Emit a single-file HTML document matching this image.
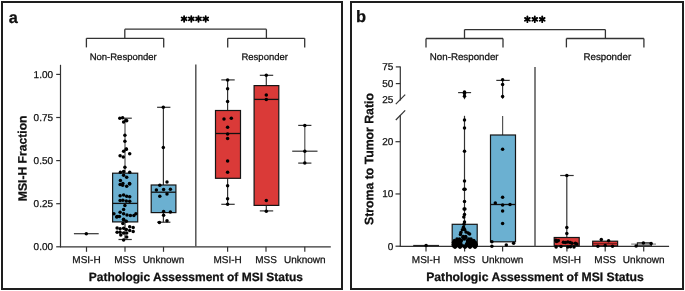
<!DOCTYPE html>
<html><head><meta charset="utf-8"><style>
html,body{margin:0;padding:0;background:#fff;}
body{width:685px;height:291px;overflow:hidden;}
svg{display:block;will-change:transform;font-family:"Liberation Sans",sans-serif;}
text{fill:#111;stroke:#111;stroke-width:0.25px;}
</style></head><body>
<svg width="685" height="291" viewBox="0 0 685 291">
<rect x="0" y="0" width="685" height="291" fill="#fff"/>
<rect x="2" y="2" width="340" height="287" fill="none" stroke="#1e1e1e" stroke-width="2"/>
<rect x="351" y="2" width="332" height="287" fill="none" stroke="#1e1e1e" stroke-width="2"/>
<g transform="matrix(1,0,0.001,1,-0.0226,0)"><text x="8.8" y="22.6" font-size="16.3" text-anchor="start" font-weight="bold" >a</text></g>
<g transform="matrix(1,0,0.001,1,-0.0225,0)"><text x="355.9" y="22.5" font-size="16.5" text-anchor="start" font-weight="bold" >b</text></g>
<line x1="124.8" y1="29.2" x2="266.4" y2="29.2" stroke="#333" stroke-width="1.3"/>
<line x1="124.8" y1="29.2" x2="124.8" y2="38.3" stroke="#333" stroke-width="1.3"/>
<line x1="266.4" y1="29.2" x2="266.4" y2="38.3" stroke="#333" stroke-width="1.3"/>
<line x1="86.4" y1="38.3" x2="163.7" y2="38.3" stroke="#333" stroke-width="1.3"/>
<line x1="86.4" y1="38.3" x2="86.4" y2="47.4" stroke="#333" stroke-width="1.3"/>
<line x1="163.7" y1="38.3" x2="163.7" y2="47.4" stroke="#333" stroke-width="1.3"/>
<line x1="227.7" y1="38.3" x2="304.7" y2="38.3" stroke="#333" stroke-width="1.3"/>
<line x1="227.7" y1="38.3" x2="227.7" y2="47.4" stroke="#333" stroke-width="1.3"/>
<line x1="304.7" y1="38.3" x2="304.7" y2="47.4" stroke="#333" stroke-width="1.3"/>
<line x1="184.10" y1="16.05" x2="184.10" y2="21.75" stroke="#000" stroke-width="1.8" stroke-linecap="round"/>
<line x1="181.63" y1="17.47" x2="186.57" y2="20.32" stroke="#000" stroke-width="1.8" stroke-linecap="round"/>
<line x1="186.57" y1="17.47" x2="181.63" y2="20.32" stroke="#000" stroke-width="1.8" stroke-linecap="round"/>
<circle cx="184.1" cy="18.9" r="1.4" fill="#000"/>
<line x1="191.30" y1="16.05" x2="191.30" y2="21.75" stroke="#000" stroke-width="1.8" stroke-linecap="round"/>
<line x1="188.83" y1="17.47" x2="193.77" y2="20.32" stroke="#000" stroke-width="1.8" stroke-linecap="round"/>
<line x1="193.77" y1="17.47" x2="188.83" y2="20.32" stroke="#000" stroke-width="1.8" stroke-linecap="round"/>
<circle cx="191.3" cy="18.9" r="1.4" fill="#000"/>
<line x1="198.50" y1="16.05" x2="198.50" y2="21.75" stroke="#000" stroke-width="1.8" stroke-linecap="round"/>
<line x1="196.03" y1="17.47" x2="200.97" y2="20.32" stroke="#000" stroke-width="1.8" stroke-linecap="round"/>
<line x1="200.97" y1="17.47" x2="196.03" y2="20.32" stroke="#000" stroke-width="1.8" stroke-linecap="round"/>
<circle cx="198.5" cy="18.9" r="1.4" fill="#000"/>
<line x1="205.70" y1="16.05" x2="205.70" y2="21.75" stroke="#000" stroke-width="1.8" stroke-linecap="round"/>
<line x1="203.23" y1="17.47" x2="208.17" y2="20.32" stroke="#000" stroke-width="1.8" stroke-linecap="round"/>
<line x1="208.17" y1="17.47" x2="203.23" y2="20.32" stroke="#000" stroke-width="1.8" stroke-linecap="round"/>
<circle cx="205.7" cy="18.9" r="1.4" fill="#000"/>
<g transform="matrix(1,0,0.001,1,-0.0600,0)"><text x="123.2" y="60" font-size="9.5" text-anchor="middle" font-weight="normal" >Non-Responder</text></g>
<g transform="matrix(1,0,0.001,1,-0.0600,0)"><text x="264.7" y="60" font-size="9.5" text-anchor="middle" font-weight="normal" >Responder</text></g>
<line x1="60.5" y1="64.8" x2="60.5" y2="247.3" stroke="#333" stroke-width="1.2"/>
<line x1="60.0" y1="246.8" x2="330.8" y2="246.8" stroke="#333" stroke-width="1.2"/>
<line x1="56.2" y1="246.8" x2="60.5" y2="246.8" stroke="#333" stroke-width="1.2"/>
<g transform="matrix(1,0,0.001,1,-0.2502,0)"><text x="53.1" y="250.20000000000002" font-size="10" text-anchor="end" font-weight="normal" >0.00</text></g>
<line x1="56.2" y1="203.70000000000002" x2="60.5" y2="203.70000000000002" stroke="#333" stroke-width="1.2"/>
<g transform="matrix(1,0,0.001,1,-0.2071,0)"><text x="53.1" y="207.10000000000002" font-size="10" text-anchor="end" font-weight="normal" >0.25</text></g>
<line x1="56.2" y1="160.60000000000002" x2="60.5" y2="160.60000000000002" stroke="#333" stroke-width="1.2"/>
<g transform="matrix(1,0,0.001,1,-0.1640,0)"><text x="53.1" y="164.00000000000003" font-size="10" text-anchor="end" font-weight="normal" >0.50</text></g>
<line x1="56.2" y1="117.5" x2="60.5" y2="117.5" stroke="#333" stroke-width="1.2"/>
<g transform="matrix(1,0,0.001,1,-0.1209,0)"><text x="53.1" y="120.9" font-size="10" text-anchor="end" font-weight="normal" >0.75</text></g>
<line x1="56.2" y1="74.4" x2="60.5" y2="74.4" stroke="#333" stroke-width="1.2"/>
<g transform="matrix(1,0,0.001,1,-0.0778,0)"><text x="53.1" y="77.80000000000001" font-size="10" text-anchor="end" font-weight="normal" >1.00</text></g>
<line x1="86.5" y1="246.8" x2="86.5" y2="251.8" stroke="#333" stroke-width="1.2"/>
<g transform="matrix(1,0,0.001,1,-0.2632,0)"><text x="86.5" y="263.2" font-size="10" text-anchor="middle" font-weight="normal" >MSI-H</text></g>
<line x1="125" y1="246.8" x2="125" y2="251.8" stroke="#333" stroke-width="1.2"/>
<g transform="matrix(1,0,0.001,1,-0.2632,0)"><text x="125" y="263.2" font-size="10" text-anchor="middle" font-weight="normal" >MSS</text></g>
<line x1="163.5" y1="246.8" x2="163.5" y2="251.8" stroke="#333" stroke-width="1.2"/>
<g transform="matrix(1,0,0.001,1,-0.2632,0)"><text x="163.5" y="263.2" font-size="10" text-anchor="middle" font-weight="normal" >Unknown</text></g>
<line x1="227.6" y1="246.8" x2="227.6" y2="251.8" stroke="#333" stroke-width="1.2"/>
<g transform="matrix(1,0,0.001,1,-0.2632,0)"><text x="227.6" y="263.2" font-size="10" text-anchor="middle" font-weight="normal" >MSI-H</text></g>
<line x1="266" y1="246.8" x2="266" y2="251.8" stroke="#333" stroke-width="1.2"/>
<g transform="matrix(1,0,0.001,1,-0.2632,0)"><text x="266" y="263.2" font-size="10" text-anchor="middle" font-weight="normal" >MSS</text></g>
<line x1="304.8" y1="246.8" x2="304.8" y2="251.8" stroke="#333" stroke-width="1.2"/>
<g transform="matrix(1,0,0.001,1,-0.2632,0)"><text x="304.8" y="263.2" font-size="10" text-anchor="middle" font-weight="normal" >Unknown</text></g>
<line x1="195.8" y1="64.6" x2="195.8" y2="246.8" stroke="#555" stroke-width="1.5"/>
<g transform="matrix(1,0,0.001,1,-0.2813,0)"><text x="195.9" y="281.3" font-size="12" text-anchor="middle" font-weight="bold" >Pathologic Assessment of MSI Status</text></g>
<g transform="matrix(1,0,0.001,1,-0.1583,0)"><text x="26.6" y="158.35" font-size="12.15" text-anchor="middle" font-weight="bold" transform="rotate(-90 26.6 158.35)">MSI-H Fraction</text></g>
<line x1="73.9" y1="233.7" x2="98.7" y2="233.7" stroke="#333" stroke-width="1.2"/>
<circle cx="86.3" cy="233.7" r="1.75"/>
<line x1="125" y1="118.2" x2="125" y2="173.2" stroke="#555" stroke-width="1.2"/>
<line x1="125" y1="221.9" x2="125" y2="239.5" stroke="#333" stroke-width="1.2"/>
<line x1="119.2" y1="118.2" x2="131.8" y2="118.2" stroke="#333" stroke-width="1.2"/>
<line x1="118.5" y1="239.5" x2="131.8" y2="239.5" stroke="#333" stroke-width="1.2"/>
<rect x="112.6" y="173.2" width="25.1" height="48.7" fill="#6bb0d1" stroke="#151515" stroke-width="1.2"/>
<line x1="112.6" y1="203.4" x2="137.7" y2="203.4" stroke="#111" stroke-width="1.3"/>
<circle cx="119.8" cy="118.2" r="1.75"/>
<circle cx="122.6" cy="117.7" r="1.75"/>
<circle cx="126" cy="120.3" r="1.75"/>
<circle cx="123.6" cy="122.1" r="1.75"/>
<circle cx="126.7" cy="120.7" r="1.75"/>
<circle cx="124.9" cy="135.2" r="1.75"/>
<circle cx="124.9" cy="141.3" r="1.75"/>
<circle cx="126.3" cy="149.2" r="1.75"/>
<circle cx="126.3" cy="149.1" r="1.75"/>
<circle cx="123.6" cy="151.2" r="1.75"/>
<circle cx="129.7" cy="153.7" r="1.75"/>
<circle cx="120.1" cy="155.7" r="1.75"/>
<circle cx="123.3" cy="157" r="1.75"/>
<circle cx="124.9" cy="167.3" r="1.75"/>
<circle cx="120.4" cy="172.2" r="1.75"/>
<circle cx="123.6" cy="171.4" r="1.75"/>
<circle cx="129.7" cy="172.2" r="1.75"/>
<circle cx="123.6" cy="175.2" r="1.75"/>
<circle cx="126.7" cy="177.3" r="1.75"/>
<circle cx="120.4" cy="180.5" r="1.75"/>
<circle cx="122.9" cy="183.5" r="1.75"/>
<circle cx="129.5" cy="183.5" r="1.75"/>
<circle cx="120.1" cy="184.4" r="1.75"/>
<circle cx="122.6" cy="185.2" r="1.75"/>
<circle cx="126.7" cy="186.2" r="1.75"/>
<circle cx="129.7" cy="184.1" r="1.75"/>
<circle cx="120.1" cy="195.8" r="1.75"/>
<circle cx="123.6" cy="195.1" r="1.75"/>
<circle cx="126.7" cy="196.2" r="1.75"/>
<circle cx="129.7" cy="196.8" r="1.75"/>
<circle cx="120.1" cy="200.6" r="1.75"/>
<circle cx="122.9" cy="200.3" r="1.75"/>
<circle cx="126.3" cy="200.9" r="1.75"/>
<circle cx="129.7" cy="201.3" r="1.75"/>
<circle cx="124.9" cy="205.4" r="1.75"/>
<circle cx="123.6" cy="209.6" r="1.75"/>
<circle cx="120.1" cy="212.3" r="1.75"/>
<circle cx="113.9" cy="213.7" r="1.75"/>
<circle cx="123.6" cy="213.7" r="1.75"/>
<circle cx="127" cy="215" r="1.75"/>
<circle cx="130.4" cy="215.5" r="1.75"/>
<circle cx="133.9" cy="215.5" r="1.75"/>
<circle cx="135.9" cy="213.7" r="1.75"/>
<circle cx="116.7" cy="217.1" r="1.75"/>
<circle cx="119.4" cy="216.4" r="1.75"/>
<circle cx="123.6" cy="219.2" r="1.75"/>
<circle cx="117.1" cy="216.4" r="1.75"/>
<circle cx="123.6" cy="219.8" r="1.75"/>
<circle cx="126.3" cy="221.2" r="1.75"/>
<circle cx="122.9" cy="223.5" r="1.75"/>
<circle cx="117.1" cy="228.1" r="1.75"/>
<circle cx="120.1" cy="228.7" r="1.75"/>
<circle cx="123.6" cy="228.3" r="1.75"/>
<circle cx="126.3" cy="229.4" r="1.75"/>
<circle cx="129.7" cy="226.7" r="1.75"/>
<circle cx="133.2" cy="227.6" r="1.75"/>
<circle cx="117.1" cy="232.2" r="1.75"/>
<circle cx="120.1" cy="232.2" r="1.75"/>
<circle cx="123.6" cy="232.9" r="1.75"/>
<circle cx="126.7" cy="233.1" r="1.75"/>
<circle cx="129.7" cy="230.4" r="1.75"/>
<circle cx="133.2" cy="231.5" r="1.75"/>
<circle cx="126.7" cy="237" r="1.75"/>
<circle cx="123.6" cy="240" r="1.75"/>
<circle cx="120.8" cy="235" r="1.75"/>
<line x1="163.4" y1="107.3" x2="163.4" y2="185" stroke="#333" stroke-width="1.2"/>
<line x1="163.4" y1="212.6" x2="163.4" y2="222.2" stroke="#333" stroke-width="1.2"/>
<line x1="157.1" y1="107.3" x2="170.4" y2="107.3" stroke="#333" stroke-width="1.2"/>
<line x1="157.1" y1="222.2" x2="170.4" y2="222.2" stroke="#333" stroke-width="1.2"/>
<rect x="151.2" y="185" width="24.7" height="27.6" fill="#6bb0d1" stroke="#151515" stroke-width="1.2"/>
<line x1="151.2" y1="192.2" x2="175.9" y2="192.2" stroke="#111" stroke-width="1.3"/>
<circle cx="163.3" cy="107.3" r="1.75"/>
<circle cx="163.3" cy="147.6" r="1.75"/>
<circle cx="167" cy="182.1" r="1.75"/>
<circle cx="159.8" cy="185.3" r="1.75"/>
<circle cx="156.4" cy="190.1" r="1.75"/>
<circle cx="163.6" cy="189.4" r="1.75"/>
<circle cx="170.4" cy="189.2" r="1.75"/>
<circle cx="167" cy="194" r="1.75"/>
<circle cx="159.8" cy="196.3" r="1.75"/>
<circle cx="163.6" cy="211.4" r="1.75"/>
<circle cx="170.4" cy="212.1" r="1.75"/>
<circle cx="163.6" cy="215.3" r="1.75"/>
<circle cx="159.4" cy="222.5" r="1.75"/>
<circle cx="167" cy="220.8" r="1.75"/>
<line x1="227.6" y1="79.9" x2="227.6" y2="110.5" stroke="#333" stroke-width="1.2"/>
<line x1="227.6" y1="178.3" x2="227.6" y2="204.3" stroke="#333" stroke-width="1.2"/>
<line x1="221.3" y1="79.9" x2="234.7" y2="79.9" stroke="#333" stroke-width="1.2"/>
<line x1="221.3" y1="204.3" x2="234.7" y2="204.3" stroke="#333" stroke-width="1.2"/>
<rect x="215.5" y="110.5" width="25" height="67.8" fill="#da3a38" stroke="#151515" stroke-width="1.2"/>
<line x1="215.5" y1="133.5" x2="240.5" y2="133.5" stroke="#111" stroke-width="1.3"/>
<circle cx="227.6" cy="79.9" r="1.75"/>
<circle cx="227.6" cy="88.8" r="1.75"/>
<circle cx="227.6" cy="101.6" r="1.75"/>
<circle cx="224" cy="119" r="1.75"/>
<circle cx="231.3" cy="118.3" r="1.75"/>
<circle cx="227.6" cy="127.3" r="1.75"/>
<circle cx="227.6" cy="133.9" r="1.75"/>
<circle cx="227.6" cy="138.4" r="1.75"/>
<circle cx="227.6" cy="161" r="1.75"/>
<circle cx="227.6" cy="172.3" r="1.75"/>
<circle cx="227.6" cy="185.7" r="1.75"/>
<circle cx="227.6" cy="198.8" r="1.75"/>
<circle cx="227.6" cy="204.3" r="1.75"/>
<line x1="266.3" y1="75.3" x2="266.3" y2="85.6" stroke="#333" stroke-width="1.2"/>
<line x1="266.3" y1="205.4" x2="266.3" y2="210.9" stroke="#333" stroke-width="1.2"/>
<line x1="259.8" y1="75.3" x2="273.2" y2="75.3" stroke="#333" stroke-width="1.2"/>
<line x1="259.8" y1="210.9" x2="273.2" y2="210.9" stroke="#333" stroke-width="1.2"/>
<rect x="254.1" y="85.6" width="24.7" height="119.8" fill="#da3a38" stroke="#151515" stroke-width="1.2"/>
<line x1="254.1" y1="99.4" x2="278.8" y2="99.4" stroke="#111" stroke-width="1.3"/>
<circle cx="266.3" cy="75.3" r="1.75"/>
<circle cx="266.3" cy="95" r="1.75"/>
<circle cx="266.3" cy="99.4" r="1.75"/>
<circle cx="266.3" cy="200.6" r="1.75"/>
<circle cx="266.3" cy="211.2" r="1.75"/>
<line x1="304.8" y1="125.4" x2="304.8" y2="163.1" stroke="#555" stroke-width="1.2"/>
<line x1="298.2" y1="125.4" x2="311.4" y2="125.4" stroke="#333" stroke-width="1.2"/>
<line x1="298.2" y1="163.1" x2="311.4" y2="163.1" stroke="#333" stroke-width="1.2"/>
<line x1="292.2" y1="151.2" x2="317.5" y2="151.2" stroke="#333" stroke-width="1.2"/>
<circle cx="304.8" cy="125.4" r="1.75"/>
<circle cx="304.8" cy="151.2" r="1.75"/>
<circle cx="304.8" cy="163.1" r="1.75"/>
<line x1="464.5" y1="29.6" x2="605.4" y2="29.6" stroke="#333" stroke-width="1.3"/>
<line x1="464.5" y1="29.6" x2="464.5" y2="38.5" stroke="#333" stroke-width="1.3"/>
<line x1="605.4" y1="29.6" x2="605.4" y2="38.5" stroke="#333" stroke-width="1.3"/>
<line x1="426" y1="38.5" x2="503" y2="38.5" stroke="#333" stroke-width="1.3"/>
<line x1="426" y1="38.5" x2="426" y2="47.4" stroke="#333" stroke-width="1.3"/>
<line x1="503" y1="38.5" x2="503" y2="47.4" stroke="#333" stroke-width="1.3"/>
<line x1="566.4" y1="38.5" x2="643.9" y2="38.5" stroke="#333" stroke-width="1.3"/>
<line x1="566.4" y1="38.5" x2="566.4" y2="47.4" stroke="#333" stroke-width="1.3"/>
<line x1="643.9" y1="38.5" x2="643.9" y2="47.4" stroke="#333" stroke-width="1.3"/>
<line x1="527.40" y1="16.45" x2="527.40" y2="22.15" stroke="#000" stroke-width="1.8" stroke-linecap="round"/>
<line x1="524.93" y1="17.88" x2="529.87" y2="20.73" stroke="#000" stroke-width="1.8" stroke-linecap="round"/>
<line x1="529.87" y1="17.88" x2="524.93" y2="20.73" stroke="#000" stroke-width="1.8" stroke-linecap="round"/>
<circle cx="527.4" cy="19.3" r="1.4" fill="#000"/>
<line x1="534.80" y1="16.45" x2="534.80" y2="22.15" stroke="#000" stroke-width="1.8" stroke-linecap="round"/>
<line x1="532.33" y1="17.88" x2="537.27" y2="20.73" stroke="#000" stroke-width="1.8" stroke-linecap="round"/>
<line x1="537.27" y1="17.88" x2="532.33" y2="20.73" stroke="#000" stroke-width="1.8" stroke-linecap="round"/>
<circle cx="534.8" cy="19.3" r="1.4" fill="#000"/>
<line x1="542.20" y1="16.45" x2="542.20" y2="22.15" stroke="#000" stroke-width="1.8" stroke-linecap="round"/>
<line x1="539.73" y1="17.88" x2="544.67" y2="20.73" stroke="#000" stroke-width="1.8" stroke-linecap="round"/>
<line x1="544.67" y1="17.88" x2="539.73" y2="20.73" stroke="#000" stroke-width="1.8" stroke-linecap="round"/>
<circle cx="542.2" cy="19.3" r="1.4" fill="#000"/>
<g transform="matrix(1,0,0.001,1,-0.0600,0)"><text x="464.2" y="60" font-size="9.75" text-anchor="middle" font-weight="normal" >Non-Responder</text></g>
<g transform="matrix(1,0,0.001,1,-0.0600,0)"><text x="607.3" y="60" font-size="9.75" text-anchor="middle" font-weight="normal" >Responder</text></g>
<line x1="400.3" y1="66.5" x2="400.3" y2="100.5" stroke="#333" stroke-width="1.2"/>
<line x1="400.3" y1="115" x2="400.3" y2="246.7" stroke="#333" stroke-width="1.2"/>
<line x1="395.8" y1="104.2" x2="405.2" y2="94.6" stroke="#333" stroke-width="1.2"/>
<line x1="395.8" y1="120.0" x2="405.2" y2="110.4" stroke="#333" stroke-width="1.2"/>
<line x1="399.8" y1="246.3" x2="669.1" y2="246.3" stroke="#333" stroke-width="1.2"/>
<line x1="395.8" y1="66.9" x2="400.3" y2="66.9" stroke="#333" stroke-width="1.2"/>
<g transform="matrix(1,0,0.001,1,-0.0703,0)"><text x="393.3" y="70.30000000000001" font-size="10" text-anchor="end" font-weight="normal" >75</text></g>
<line x1="395.8" y1="83.6" x2="400.3" y2="83.6" stroke="#333" stroke-width="1.2"/>
<g transform="matrix(1,0,0.001,1,-0.0870,0)"><text x="393.3" y="87.0" font-size="10" text-anchor="end" font-weight="normal" >50</text></g>
<g transform="matrix(1,0,0.001,1,-0.1030,0)"><text x="393.3" y="103.0" font-size="10" text-anchor="end" font-weight="normal" >25</text></g>
<line x1="395.5" y1="246.2" x2="400.3" y2="246.2" stroke="#333" stroke-width="1.2"/>
<g transform="matrix(1,0,0.001,1,-0.2496,0)"><text x="393.3" y="249.6" font-size="10" text-anchor="end" font-weight="normal" >0</text></g>
<line x1="395.5" y1="193.95" x2="400.3" y2="193.95" stroke="#333" stroke-width="1.2"/>
<g transform="matrix(1,0,0.001,1,-0.1973,0)"><text x="393.3" y="197.35" font-size="10" text-anchor="end" font-weight="normal" >10</text></g>
<line x1="395.5" y1="141.7" x2="400.3" y2="141.7" stroke="#333" stroke-width="1.2"/>
<g transform="matrix(1,0,0.001,1,-0.1451,0)"><text x="393.3" y="145.1" font-size="10" text-anchor="end" font-weight="normal" >20</text></g>
<line x1="426" y1="246.3" x2="426" y2="251.5" stroke="#333" stroke-width="1.2"/>
<g transform="matrix(1,0,0.001,1,-0.2630,0)"><text x="426" y="263.0" font-size="10" text-anchor="middle" font-weight="normal" >MSI-H</text></g>
<line x1="464.6" y1="246.3" x2="464.6" y2="251.5" stroke="#333" stroke-width="1.2"/>
<g transform="matrix(1,0,0.001,1,-0.2630,0)"><text x="464.6" y="263.0" font-size="10" text-anchor="middle" font-weight="normal" >MSS</text></g>
<line x1="502.6" y1="246.3" x2="502.6" y2="251.5" stroke="#333" stroke-width="1.2"/>
<g transform="matrix(1,0,0.001,1,-0.2630,0)"><text x="502.6" y="263.0" font-size="10" text-anchor="middle" font-weight="normal" >Unknown</text></g>
<line x1="566.9" y1="246.3" x2="566.9" y2="251.5" stroke="#333" stroke-width="1.2"/>
<g transform="matrix(1,0,0.001,1,-0.2630,0)"><text x="566.9" y="263.0" font-size="10" text-anchor="middle" font-weight="normal" >MSI-H</text></g>
<line x1="605.2" y1="246.3" x2="605.2" y2="251.5" stroke="#333" stroke-width="1.2"/>
<g transform="matrix(1,0,0.001,1,-0.2630,0)"><text x="605.2" y="263.0" font-size="10" text-anchor="middle" font-weight="normal" >MSS</text></g>
<line x1="643.7" y1="246.3" x2="643.7" y2="251.5" stroke="#333" stroke-width="1.2"/>
<g transform="matrix(1,0,0.001,1,-0.2630,0)"><text x="643.7" y="263.0" font-size="10" text-anchor="middle" font-weight="normal" >Unknown</text></g>
<line x1="535" y1="66.9" x2="535" y2="246.3" stroke="#555" stroke-width="1.5"/>
<g transform="matrix(1,0,0.001,1,-0.2811,0)"><text x="535" y="281.1" font-size="12.2" text-anchor="middle" font-weight="bold" >Pathologic Assessment of MSI Status</text></g>
<g transform="matrix(1,0,0.001,1,-0.1590,0)"><text x="373.3" y="159" font-size="12.25" text-anchor="middle" font-weight="bold" transform="rotate(-90 373.3 159)">Stroma to Tumor Ratio</text></g>
<line x1="413.2" y1="245.6" x2="439" y2="245.6" stroke="#222" stroke-width="1.4"/>
<circle cx="426.1" cy="245.5" r="1.75"/>
<line x1="464.5" y1="92.6" x2="464.5" y2="99.2" stroke="#333" stroke-width="1.2"/>
<line x1="458.1" y1="92.6" x2="471.1" y2="92.6" stroke="#333" stroke-width="1.2"/>
<line x1="464.5" y1="115.8" x2="464.5" y2="224.3" stroke="#333" stroke-width="1.2"/>
<rect x="452.2" y="224.3" width="25" height="21.8" fill="#6bb0d1" stroke="#151515" stroke-width="1.2"/>
<circle cx="464.5" cy="92.1" r="1.75"/>
<circle cx="464.5" cy="93.5" r="1.75"/>
<circle cx="464.5" cy="96.2" r="1.75"/>
<circle cx="464.5" cy="120" r="1.75"/>
<circle cx="464.5" cy="128.1" r="1.75"/>
<circle cx="464.5" cy="151.2" r="1.75"/>
<circle cx="464.5" cy="181" r="1.75"/>
<circle cx="464.0" cy="189.3" r="1.75"/>
<circle cx="465.0" cy="189.3" r="1.75"/>
<circle cx="464.5" cy="201.5" r="1.75"/>
<circle cx="464.1" cy="208.9" r="1.75"/>
<circle cx="464.9" cy="208.9" r="1.75"/>
<circle cx="464.5" cy="214.6" r="1.75"/>
<circle cx="463.8" cy="217.1" r="1.75"/>
<circle cx="464.5" cy="221.9" r="1.75"/>
<circle cx="464" cy="224.3" r="1.75"/>
<circle cx="463.5" cy="227.2" r="1.75"/>
<circle cx="462.4" cy="229.8" r="1.75"/>
<circle cx="460.9" cy="232.4" r="1.75"/>
<circle cx="460.4" cy="234.4" r="1.75"/>
<circle cx="464.6" cy="229.6" r="1.75"/>
<circle cx="466" cy="231.9" r="1.75"/>
<circle cx="468.1" cy="232.9" r="1.75"/>
<circle cx="469.6" cy="233.9" r="1.75"/>
<circle cx="463.2" cy="236.5" r="1.75"/>
<circle cx="465.6" cy="236.5" r="1.75"/>
<circle cx="462.8" cy="237.6" r="1.75"/>
<circle cx="465.8" cy="237.6" r="1.75"/>
<circle cx="457" cy="238.9" r="1.75"/>
<circle cx="459.5" cy="238.9" r="1.75"/>
<circle cx="464.3" cy="238.9" r="1.75"/>
<circle cx="468.8" cy="238.9" r="1.75"/>
<circle cx="471" cy="238.9" r="1.75"/>
<circle cx="454.5" cy="240.5" r="1.75"/>
<circle cx="457" cy="240.5" r="1.75"/>
<circle cx="459.5" cy="240.5" r="1.75"/>
<circle cx="461.5" cy="240.5" r="1.75"/>
<circle cx="467.5" cy="240.5" r="1.75"/>
<circle cx="469.5" cy="240.5" r="1.75"/>
<circle cx="471.5" cy="240.5" r="1.75"/>
<circle cx="473.8" cy="240.5" r="1.75"/>
<circle cx="453.5" cy="242.3" r="1.75"/>
<circle cx="456" cy="242.3" r="1.75"/>
<circle cx="458.5" cy="242.3" r="1.75"/>
<circle cx="460.5" cy="242.3" r="1.75"/>
<circle cx="467.5" cy="242.3" r="1.75"/>
<circle cx="470" cy="242.3" r="1.75"/>
<circle cx="472.5" cy="242.3" r="1.75"/>
<circle cx="475.3" cy="242.3" r="1.75"/>
<circle cx="453.5" cy="244.2" r="1.75"/>
<circle cx="456" cy="244.2" r="1.75"/>
<circle cx="458.5" cy="244.2" r="1.75"/>
<circle cx="461" cy="244.2" r="1.75"/>
<circle cx="466.5" cy="244.2" r="1.75"/>
<circle cx="469" cy="244.2" r="1.75"/>
<circle cx="471.5" cy="244.2" r="1.75"/>
<circle cx="474" cy="244.2" r="1.75"/>
<circle cx="476" cy="244.2" r="1.75"/>
<circle cx="453.5" cy="246.0" r="1.75"/>
<circle cx="456" cy="246.0" r="1.75"/>
<circle cx="458.5" cy="246.0" r="1.75"/>
<circle cx="461" cy="246.0" r="1.75"/>
<circle cx="463.5" cy="246.0" r="1.75"/>
<circle cx="466" cy="246.0" r="1.75"/>
<circle cx="468.5" cy="246.0" r="1.75"/>
<circle cx="471" cy="246.0" r="1.75"/>
<circle cx="473.5" cy="246.0" r="1.75"/>
<circle cx="476" cy="246.0" r="1.75"/>
<circle cx="455" cy="247.2" r="1.75"/>
<circle cx="460" cy="247.2" r="1.75"/>
<circle cx="465" cy="247.2" r="1.75"/>
<circle cx="470" cy="247.2" r="1.75"/>
<circle cx="475" cy="247.2" r="1.75"/>
<line x1="502.6" y1="80.4" x2="502.6" y2="98.7" stroke="#333" stroke-width="1.2"/>
<line x1="496.3" y1="80.4" x2="509.7" y2="80.4" stroke="#333" stroke-width="1.2"/>
<line x1="502.6" y1="116" x2="502.6" y2="135" stroke="#555" stroke-width="1.2"/>
<rect x="490.5" y="135" width="25" height="106.8" fill="#6bb0d1" stroke="#151515" stroke-width="1.2"/>
<line x1="490.5" y1="204.5" x2="515.5" y2="204.5" stroke="#111" stroke-width="1.3"/>
<circle cx="502.6" cy="79.8" r="1.75"/>
<circle cx="502.6" cy="84.5" r="1.75"/>
<circle cx="502.6" cy="96.6" r="1.75"/>
<circle cx="502.6" cy="149.2" r="1.75"/>
<circle cx="502.6" cy="197.2" r="1.75"/>
<circle cx="495.3" cy="203.1" r="1.75"/>
<circle cx="502.6" cy="205" r="1.75"/>
<circle cx="510" cy="204.5" r="1.75"/>
<circle cx="502.6" cy="210.9" r="1.75"/>
<circle cx="502.6" cy="223.5" r="1.75"/>
<circle cx="491.9" cy="241.8" r="1.75"/>
<circle cx="491.9" cy="246.3" r="1.75"/>
<circle cx="506.3" cy="245" r="1.75"/>
<circle cx="513.6" cy="243.2" r="1.75"/>
<line x1="566.8" y1="175.5" x2="566.8" y2="237.5" stroke="#333" stroke-width="1.2"/>
<line x1="560.2" y1="175.5" x2="573.7" y2="175.5" stroke="#333" stroke-width="1.2"/>
<rect x="554.2" y="237.5" width="25" height="8.2" fill="#da3a38" stroke="#151515" stroke-width="1.2"/>
<line x1="554.2" y1="240.2" x2="560" y2="240.2" stroke="#111" stroke-width="1.3"/>
<circle cx="566.8" cy="175.5" r="1.75"/>
<circle cx="566.8" cy="227.5" r="1.75"/>
<circle cx="566.8" cy="233.5" r="1.75"/>
<circle cx="555.8" cy="240.2" r="1.75"/>
<circle cx="558.2" cy="240.8" r="1.75"/>
<circle cx="556.5" cy="241.6" r="1.75"/>
<circle cx="563.4" cy="242.3" r="1.75"/>
<circle cx="565.4" cy="242.6" r="1.75"/>
<circle cx="567.8" cy="242" r="1.75"/>
<circle cx="570.2" cy="242.6" r="1.75"/>
<circle cx="572" cy="243.3" r="1.75"/>
<circle cx="575.4" cy="243.3" r="1.75"/>
<circle cx="576.8" cy="244" r="1.75"/>
<circle cx="556.1" cy="247.1" r="1.75"/>
<circle cx="567.8" cy="247.1" r="1.75"/>
<circle cx="574" cy="247.1" r="1.75"/>
<circle cx="561" cy="246.5" r="1.75"/>
<circle cx="570.5" cy="246.8" r="1.75"/>
<rect x="592.7" y="241.2" width="24.9" height="4.7" fill="#da3a38" stroke="#151515" stroke-width="1.2"/>
<line x1="592.7" y1="243.7" x2="617.6" y2="243.7" stroke="#5a1515" stroke-width="0.9"/>
<circle cx="601.3" cy="239.6" r="1.75"/>
<circle cx="608.6" cy="240.7" r="1.75"/>
<circle cx="597.9" cy="246.3" r="1.75"/>
<circle cx="605.2" cy="245.5" r="1.75"/>
<circle cx="612.5" cy="246.3" r="1.75"/>
<line x1="631.2" y1="244.1" x2="656" y2="244.1" stroke="#999" stroke-width="1.4"/>
<rect x="637.4" y="242.8" width="14" height="3.1" fill="#999" stroke="#222" stroke-width="1.1"/>
<circle cx="636.1" cy="246" r="1.75"/>
<circle cx="643.4" cy="243.1" r="1.75"/>
<circle cx="651.1" cy="243.5" r="1.75"/>
</svg>
</body></html>
